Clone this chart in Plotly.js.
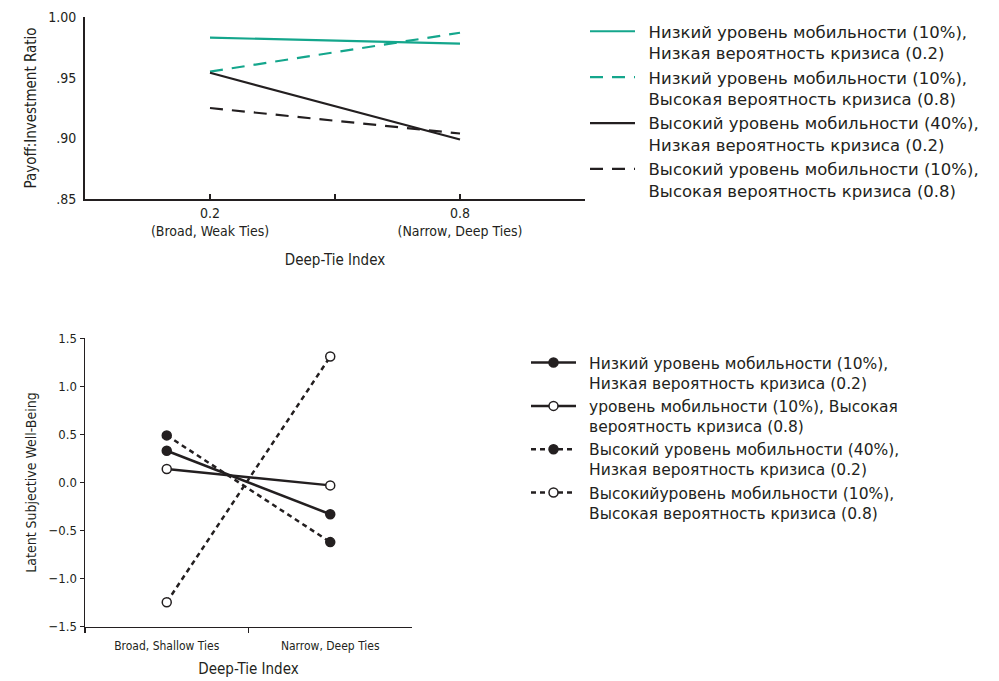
<!DOCTYPE html>
<html>
<head>
<meta charset="utf-8">
<script src="https://cdn.plot.ly/plotly-3.0.1.min.js"></script>
<style>html,body{margin:0;padding:0;background:#fff;}#chart{width:999px;height:681px;}</style>
</head>
<body>
<div id="chart"></div>
<script>
// ---- Data ----
const topX = [0.2, 0.8];
const topXTickVals = [-0.1, 0.2, 0.5, 0.8, 1.1];
const topXTickText = ['', '0.2<br>(Broad, Weak Ties)', '', '0.8<br>(Narrow, Deep Ties)', ''];
const topYTickVals = [0.85, 0.90, 0.95, 1.00];
const topYTickText = ['.85', '.90', '.95', '1.00'];
const topLowMobLowCrisis = [0.983, 0.978];
const topLowMobHighCrisis = [0.955, 0.987];
const topHighMobLowCrisis = [0.954, 0.899];
const topHighMobHighCrisis = [0.925, 0.904];
const topNames = [
  ['Низкий уровень мобильности (10%),', 'Низкая вероятность кризиса (0.2)'],
  ['Низкий уровень мобильности (10%),', 'Высокая вероятность кризиса (0.8)'],
  ['Высокий уровень мобильности (40%),', 'Низкая вероятность кризиса (0.2)'],
  ['Высокий уровень мобильности (10%),', 'Высокая вероятность кризиса (0.8)']
];

const botCats = ['Broad, Shallow Ties', 'Narrow, Deep Ties'];
const botLowMobLowCrisis = [0.33, -0.33];
const botLowMobHighCrisis = [0.14, -0.03];
const botHighMobLowCrisis = [0.49, -0.62];
const botHighMobHighCrisis = [-1.245, 1.31];
const botNames = [
  ['Низкий уровень мобильности (10%),', 'Низкая вероятность кризиса (0.2)'],
  ['уровень мобильности (10%), Высокая', 'вероятность кризиса (0.8)'],
  ['Высокий уровень мобильности (40%),', 'Низкая вероятность кризиса (0.2)'],
  ['Высокийуровень мобильности (10%),', 'Высокая вероятность кризиса (0.8)']
];

// ---- Styles ----
const TEAL = '#14a68c';
const INK = '#231f20';
const W = 999, H = 681;
const FAM = '"Liberation Sans Narrow", "DejaVu Sans Condensed", sans-serif';
const tickFont = {family: FAM, size: 14, color: INK};
const titleFont = {family: FAM, size: 15, color: INK};
const legFont = {family: '"DejaVu Sans", sans-serif', size: 16.5, color: INK};
const legFont2 = {family: '"DejaVu Sans", sans-serif', size: 15.5, color: INK};
const PAD = '\u00a0\u2009';
function legName(lines) { return lines.map(s => PAD + s).join('<br>'); }

function topTrace(y, color, dash, name) {
  return {x: topX, y: y, type: 'scatter', mode: 'lines', name: legName(name),
    line: {color: color, width: 2.2, dash: dash}, xaxis: 'x', yaxis: 'y', legend: 'legend'};
}
function botTrace(y, dash, fill, name) {
  return {x: botCats, y: y, type: 'scatter', mode: 'lines+markers', name: legName(name),
    line: {color: INK, width: 2.5, dash: dash},
    marker: {size: 9, color: fill, line: {color: INK, width: 1.5}},
    xaxis: 'x2', yaxis: 'y2', legend: 'legend2'};
}

const TDASH = '13px,9px';
const BDASH = '5px,4px';
const data = [
  topTrace(topLowMobLowCrisis, TEAL, 'solid', topNames[0]),
  topTrace(topLowMobHighCrisis, TEAL, TDASH, topNames[1]),
  topTrace(topHighMobLowCrisis, INK, 'solid', topNames[2]),
  topTrace(topHighMobHighCrisis, INK, TDASH, topNames[3]),
  botTrace(botLowMobLowCrisis, 'solid', INK, botNames[0]),
  botTrace(botLowMobHighCrisis, 'solid', '#ffffff', botNames[1]),
  botTrace(botHighMobLowCrisis, BDASH, INK, botNames[2]),
  botTrace(botHighMobHighCrisis, BDASH, '#ffffff', botNames[3])
];

const layout = {
  width: W, height: H,
  margin: {l: 0, r: 0, t: 0, b: 0},
  paper_bgcolor: '#fff', plot_bgcolor: '#fff',
  showlegend: true,
  xaxis: {
    domain: [85 / W, 585 / W], range: [-0.1, 1.1], anchor: 'y',
    tickmode: 'array', tickvals: topXTickVals, ticktext: topXTickText,
    showgrid: false, zeroline: false, showline: true, linecolor: INK, linewidth: 2,
    ticks: 'inside', ticklen: 5, tickwidth: 1.2, tickcolor: INK,
    tickfont: tickFont, automargin: false,
    title: {text: 'Deep-Tie Index', font: titleFont, standoff: 16}
  },
  yaxis: {
    domain: [1 - 199 / H, 1 - 17 / H], range: [0.85, 1.00], anchor: 'x',
    tickmode: 'array', tickvals: topYTickVals, ticktext: topYTickText,
    showgrid: false, zeroline: false, showline: true, linecolor: INK, linewidth: 2,
    ticks: '', ticklabelstandoff: 4,
    tickfont: tickFont, automargin: false,
    title: {text: 'Payoff:Investment Ratio', font: titleFont, standoff: 8}
  },
  xaxis2: {
    domain: [85 / W, 412 / W], range: [-0.5, 1.5], anchor: 'y2', type: 'category',
    tickson: 'boundaries',
    showgrid: false, zeroline: false, showline: true, linecolor: INK, linewidth: 1.5,
    ticks: 'outside', ticklen: 5, tickwidth: 1.5, tickcolor: INK, ticklabelstandoff: 7,
    tickfont: {family: FAM, size: 12, color: INK}, automargin: false,
    title: {text: 'Deep-Tie Index', font: titleFont, standoff: 12}
  },
  yaxis2: {
    domain: [1 - 626.7 / H, 1 - 338.3 / H], range: [-1.5, 1.5], anchor: 'x2',
    tickmode: 'linear', tick0: -1.5, dtick: 0.5, tickformat: '.1f',
    showgrid: false, zeroline: false, showline: true, linecolor: INK, linewidth: 1.5,
    ticks: 'outside', ticklen: 4, tickwidth: 1.5, tickcolor: INK,
    tickfont: {family: FAM, size: 13, color: INK}, automargin: false,
    title: {text: 'Latent Subjective Well-Being', font: {family: FAM, size: 14, color: INK}, standoff: 8}
  },
  legend: {
    x: 585 / W, y: 1 - 14 / H, xanchor: 'left', yanchor: 'top', valign: 'top',
    font: legFont, bgcolor: 'rgba(0,0,0,0)', itemwidth: 45, tracegroupgap: 0,
    itemclick: false, itemdoubleclick: false
  },
  legend2: {
    x: 526 / W, y: 1 - 346 / H, xanchor: 'left', yanchor: 'top', valign: 'top',
    font: legFont2, bgcolor: 'rgba(0,0,0,0)', itemwidth: 45, tracegroupgap: 0,
    itemclick: false, itemdoubleclick: false
  }
};

Plotly.newPlot('chart', data, layout, {displayModeBar: false, staticPlot: true});
</script>
</body>
</html>
